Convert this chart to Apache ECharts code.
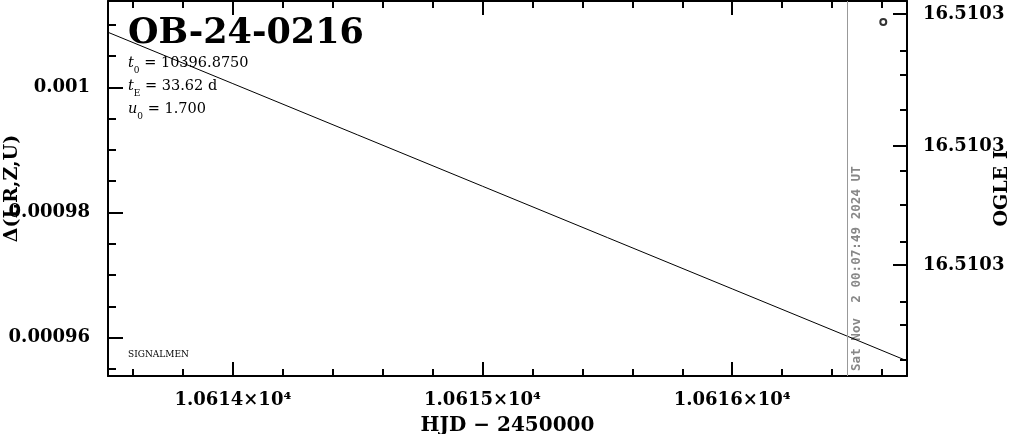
<!DOCTYPE html>
<html>
<head>
<meta charset="utf-8">
<script src="https://cdn.jsdelivr.net/npm/echarts@6/dist/echarts.min.js"></script>
<style>
html,body{margin:0;padding:0;background:#fff;}
#chart{width:1011px;height:434px;}
</style>
</head>
<body>
<div id="chart"></div>
<script>
// ---- data ----
const modelHJD = [10613.5, 10614.0, 10614.5, 10615.0, 10615.5, 10616.0, 10616.5, 10616.7];
const modelDelta = [0.0010088, 0.0010006, 0.0009924, 0.0009842, 0.0009760, 0.0009678, 0.0009596, 0.0009563];
const obsHJD = [10616.605];
const obsMag = [16.5102876];
const nowHJD = 10616.46;
const nowLabel = 'Sat Nov  2 00:07:49 2024 UT';
const eventName = 'OB-24-0216';
const t0Text = '10396.8750';
const tEText = '33.62 d';
const u0Text = '1.700';
const xMajorTicks = [10614, 10615, 10616];
const xMinorTicks = [10613.6, 10613.8, 10614.2, 10614.4, 10614.6, 10614.8, 10615.2, 10615.4, 10615.6, 10615.8, 10616.2, 10616.4, 10616.6];
const yMajorTicks = [0.00096, 0.00098, 0.001];
const yMinorTicks = [0.000955, 0.000965, 0.00097, 0.000975, 0.000985, 0.00099, 0.000995, 0.001005, 0.00101];
const magMajorTicks = [16.5102868, 16.5103, 16.5103119];
const magMinorTicks = [16.5102905, 16.5102929, 16.5102964, 16.5103025, 16.5103059, 16.5103096, 16.5103156, 16.5103179, 16.5103214];
const xRange = [10613.5, 10616.7];
const yRange = [0.00095388, 0.0010138];
const magRange = [16.5102855, 16.5103230];

const FONT = 'DejaVu Serif';
const chart = echarts.init(document.getElementById('chart'));

function xAx(pos, ticks, len, showLine, showLabel) {
  return {
    type: 'value', position: pos, min: xRange[0], max: xRange[1],
    axisLine: {show: showLine, onZero: false, lineStyle: {color: '#000', width: 2}},
    axisTick: {show: true, inside: true, length: len, customValues: ticks, lineStyle: {color: '#000', width: 2}},
    axisLabel: showLabel ? {
      show: true, customValues: ticks, margin: 15, color: '#000',
      fontFamily: FONT, fontWeight: 'bold', fontSize: 18,
      formatter: v => (v / 1e4).toFixed(4) + '×10⁴'
    } : {show: false},
    splitLine: {show: false}
  };
}
function yAx(pos, range, ticks, len, showLine, labelOpt, inverse) {
  return {
    type: 'value', position: pos, min: range[0], max: range[1], inverse: !!inverse,
    axisLine: {show: showLine, onZero: false, lineStyle: {color: '#000', width: 2}},
    axisTick: {show: true, inside: true, length: len, customValues: ticks, lineStyle: {color: '#000', width: 2}},
    axisLabel: labelOpt ? Object.assign({show: true, customValues: ticks, color: '#000', fontFamily: FONT, fontSize: 18}, labelOpt) : {show: false},
    splitLine: {show: false}
  };
}

const xAxes = [
  Object.assign(xAx('bottom', xMajorTicks, 14, true, true), {
    name: 'HJD − 2450000', nameLocation: 'middle', nameGap: 40, nameMoveOverlap: false,
    nameTextStyle: {color: '#000', fontFamily: FONT, fontWeight: 'bold', fontSize: 20}
  }),
  xAx('bottom', xMinorTicks, 7, false, false),
  xAx('top', xMajorTicks, 14, true, false),
  xAx('top', xMinorTicks, 7, false, false)
];
const yAxes = [
  Object.assign(yAx('left', yRange, yMajorTicks, 15, true, {
    fontWeight: 'bold', margin: 18, formatter: v => String(parseFloat(v.toPrecision(6)))
  }), {
    name: 'Δ(I,R,Z,U)', nameLocation: 'middle', nameGap: 86, nameRotate: 90, nameMoveOverlap: false,
    nameTextStyle: {color: '#000', fontFamily: FONT, fontWeight: 'bold', fontSize: 19}
  }),
  yAx('left', yRange, yMinorTicks, 8, false, null),
  Object.assign(yAx('right', magRange, magMajorTicks, 14, true, {
    margin: 16, fontWeight: 'bold', formatter: v => v.toFixed(4)
  }, true), {
    name: 'OGLE I', nameLocation: 'middle', nameGap: 86, nameRotate: 90, nameMoveOverlap: false,
    nameTextStyle: {color: '#000', fontFamily: FONT, fontWeight: 'bold', fontSize: 19}
  }),
  yAx('right', magRange, magMinorTicks, 7, false, null, true)
];

chart.setOption({
  animation: false,
  backgroundColor: '#fff',
  grid: {left: 108, right: 104, top: 1, bottom: 58, containLabel: false, outerBoundsMode: 'none'},
  xAxis: xAxes,
  yAxis: yAxes,
  graphic: [
    {type: 'text', left: 128, top: 16, style: {text: eventName, fontFamily: FONT, fontWeight: 'bold', fontSize: 35, fill: '#000'}},
    {type: 'text', left: 128, top: 52, style: {
      text: '{i|t}{s|0} = ' + t0Text + '\n{i|t}{s|E} = ' + tEText + '\n{i|u}{s|0} = ' + u0Text,
      fontFamily: FONT, fontSize: 14.5, fill: '#000', lineHeight: 23,
      rich: {i: {fontFamily: FONT, fontStyle: 'italic', fontSize: 14.5, lineHeight: 23, verticalAlign: 'middle'},
             s: {fontFamily: FONT, fontSize: 9, lineHeight: 20, verticalAlign: 'bottom'}}
    }},
    {type: 'text', left: 128, top: 350, style: {text: 'SIGNALMEN', fontFamily: FONT, fontSize: 9, fill: '#000'}}
  ],
  series: [
    {
      type: 'line', xAxisIndex: 0, yAxisIndex: 0,
      data: modelHJD.map((x, i) => [x, modelDelta[i]]),
      showSymbol: false, symbol: 'none', lineStyle: {color: '#000', width: 1}, clip: true,
      markLine: {
        silent: true, symbol: 'none',
        lineStyle: {color: '#999', width: 1, type: 'solid'},
        label: {show: false},
        data: [{xAxis: nowHJD}]
      }
    },
    {
      type: 'scatter', xAxisIndex: 0, yAxisIndex: 2,
      data: obsHJD.map((x, i) => [x, obsMag[i]]),
      symbol: 'circle', symbolSize: 6,
      itemStyle: {color: '#fff', borderColor: '#000', borderWidth: 2}
    }
  ]
});

// date label alongside the "now" line, placed through the axis scale
const nowPx = chart.convertToPixel({xAxisIndex: 0}, nowHJD);
const bottomPx = chart.convertToPixel({yAxisIndex: 0}, yRange[0]);
chart.setOption({
  graphic: [
    {type: 'text', id: 'nowText', x: nowPx + 3, y: bottomPx - 5, rotation: Math.PI / 2,
     style: {text: nowLabel, fontFamily: 'DejaVu Sans Mono', fontWeight: 'bold', fontSize: 12.6,
             fill: '#888', align: 'left', verticalAlign: 'top'}}
  ]
});
</script>
</body>
</html>
